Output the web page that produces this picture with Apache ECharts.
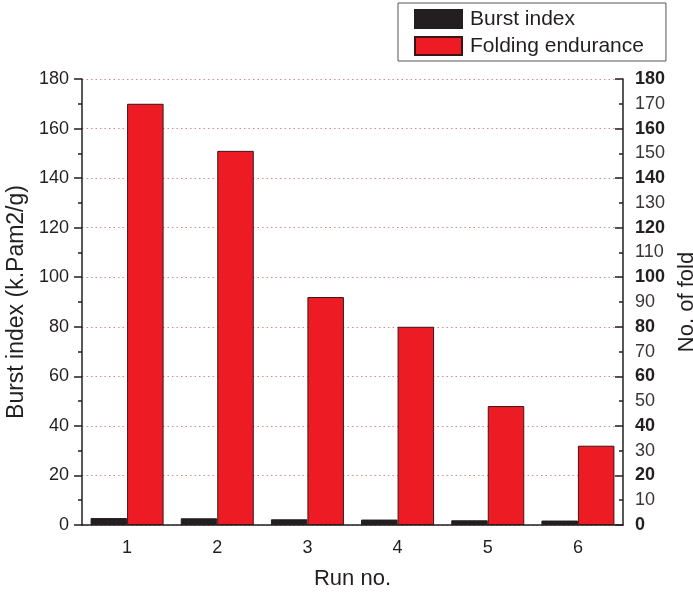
<!DOCTYPE html>
<html>
<head>
<meta charset="utf-8">
<script src="https://cdn.jsdelivr.net/npm/echarts@6/dist/echarts.min.js"></script>
<style>html,body{margin:0;padding:0;background:#fff}#c{width:693px;height:593px}</style>
</head>
<body>
<div id="c"></div>
<script>
const categories = ['1', '2', '3', '4', '5', '6'];
const burstIndex = [2.8, 2.7, 2.3, 2.2, 1.9, 1.8];
const foldingEndurance = [170, 151, 92, 80, 48, 32];
const leftTicks = [0, 20, 40, 60, 80, 100, 120, 140, 160, 180];
const rightTicks = [0, 10, 20, 30, 40, 50, 60, 70, 80, 90, 100, 110, 120, 130, 140, 150, 160, 170, 180];

const FONT = '"Liberation Sans", Arial, sans-serif';
const TXT = '#231f20';
const chart = echarts.init(document.getElementById('c'), null, {renderer: 'canvas'});
const yMax = leftTicks[leftTicks.length - 1];
chart.setOption({
  animation: false,
  backgroundColor: '#fff',
  textStyle: {fontFamily: FONT},
  grid: {left: 82, right: 70, top: 79, bottom: 68, containLabel: false, outerBoundsMode: 'none'},
  legend: {
    orient: 'vertical', left: 398, top: 3,
    icon: 'rect',
    itemWidth: 47, itemHeight: 18, itemGap: 5,
    padding: [5, 22, 4, 16],
    borderColor: '#555', borderWidth: 1,
    textStyle: {fontSize: 21, lineHeight: 22, color: TXT, fontFamily: FONT, padding: [0, 0, 0, 3]},
    data: ['Burst index', 'Folding endurance']
  },
  xAxis: [{
    type: 'category', data: categories, position: 'bottom',
    name: 'Run no.', nameLocation: 'middle', nameGap: 43,
    nameTextStyle: {fontSize: 22, color: TXT, fontFamily: FONT},
    axisLine: {lineStyle: {color: TXT, width: 1.5}},
    axisTick: {alignWithLabel: true, length: 7, lineStyle: {color: TXT, width: 1.5}},
    axisLabel: {fontSize: 18, color: TXT, margin: 14, fontFamily: FONT}
  }, {
    type: 'category', data: categories, position: 'bottom',
    axisLine: {show: false},
    axisTick: {alignWithLabel: false, length: 4, lineStyle: {color: TXT, width: 1.5}},
    axisLabel: {show: false}
  }],
  yAxis: [{
    type: 'value', min: 0, max: yMax, interval: 20, position: 'left',
    name: 'Burst index (k.Pam2/g)', nameLocation: 'middle', nameGap: 53,
    nameTextStyle: {fontSize: 23, color: TXT, fontFamily: FONT},
    axisLine: {show: true, lineStyle: {color: TXT, width: 1.5}},
    axisTick: {show: true, length: 8, lineStyle: {color: TXT, width: 1.5}},
    minorTick: {show: true, splitNumber: 2, length: 4, lineStyle: {color: TXT, width: 1.5}},
    axisLabel: {fontSize: 18, color: TXT, margin: 13, fontFamily: FONT},
    splitLine: {show: true, lineStyle: {color: '#d98a8c', type: [1.5, 3], width: 1.2}}
  }, {
    type: 'value', min: 0, max: yMax, interval: 10, position: 'right',
    name: 'No. of fold', nameLocation: 'middle', nameGap: 52, nameRotate: 90,
    nameTextStyle: {fontSize: 22, color: TXT, fontFamily: FONT},
    axisLine: {show: true, lineStyle: {color: TXT, width: 1.5}},
    axisTick: {show: true, inside: true, length: 4, lineStyle: {color: TXT, width: 1.5}},
    axisLabel: {
      fontSize: 18, color: TXT, margin: 12, fontFamily: FONT,
      formatter: v => (v % 20 === 0 ? '{b|' + v + '}' : '{n|' + v + '}'),
      rich: {b: {fontSize: 18, fontWeight: 'bold', color: TXT, fontFamily: FONT},
             n: {fontSize: 18, color: '#3a3536', fontFamily: FONT}}
    },
    splitLine: {show: false}
  }, {
    type: 'value', min: 0, max: yMax, interval: 20, position: 'right',
    axisLine: {show: false},
    axisTick: {show: true, inside: true, length: 8, lineStyle: {color: TXT, width: 1.5}},
    axisLabel: {show: false},
    splitLine: {show: false}
  }],
  series: [{
    name: 'Burst index', type: 'bar', xAxisIndex: 0, yAxisIndex: 0,
    data: burstIndex, barWidth: 36.5, barGap: '0%',
    itemStyle: {color: '#231f20', borderColor: '#231f20', borderWidth: 1}
  }, {
    name: 'Folding endurance', type: 'bar', xAxisIndex: 0, yAxisIndex: 1,
    data: foldingEndurance, barWidth: 36.5, barGap: '0%',
    itemStyle: {color: '#ed1c24', borderColor: '#3b1416', borderWidth: 1}
  }]
});
</script>
</body>
</html>
